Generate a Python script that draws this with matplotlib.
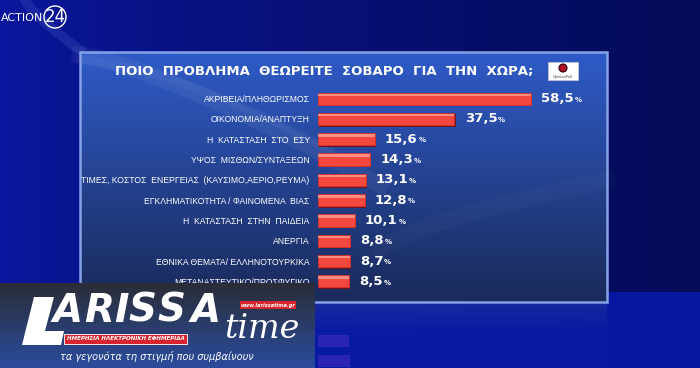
import numpy as np
import matplotlib.pyplot as plt
from matplotlib.patches import Rectangle, Circle, Polygon
from matplotlib.colors import to_rgb

# data
categories = [
    "ΑΚΡΙΒΕΙΑ/ΠΛΗΘΩΡΙΣΜΟΣ",
    "ΟΙΚΟΝΟΜΙΑ/ΑΝΑΠΤΥΞΗ",
    "Η  ΚΑΤΑΣΤΑΣΗ  ΣΤΟ  ΕΣΥ",
    "ΥΨΟΣ  ΜΙΣΘΩΝ/ΣΥΝΤΑΞΕΩΝ",
    "ΤΙΜΕΣ, ΚΟΣΤΟΣ  ΕΝΕΡΓΕΙΑΣ  (ΚΑΥΣΙΜΟ,ΑΕΡΙΟ,ΡΕΥΜΑ)",
    "ΕΓΚΛΗΜΑΤΙΚΟΤΗΤΑ / ΦΑΙΝΟΜΕΝΑ  ΒΙΑΣ",
    "Η  ΚΑΤΑΣΤΑΣΗ  ΣΤΗΝ  ΠΑΙΔΕΙΑ",
    "ΑΝΕΡΓΙΑ",
    "ΕΘΝΙΚΑ ΘΕΜΑΤΑ/ ΕΛΛΗΝΟΤΟΥΡΚΙΚΑ",
    "ΜΕΤΑΝΑΣΤΕΥΤΙΚΟ/ΠΡΟΣΦΥΓΙΚΟ",
]
values = [58.5, 37.5, 15.6, 14.3, 13.1, 12.8, 10.1, 8.8, 8.7, 8.5]
title = "ΠΟΙΟ  ΠΡΟΒΛΗΜΑ  ΘΕΩΡΕΙΤΕ  ΣΟΒΑΡΟ  ΓΙΑ  ΤΗΝ  ΧΩΡΑ;"

W, H = 700, 368


def grad(c1, c2, n=256):
    a = np.array(to_rgb(c1))
    b = np.array(to_rgb(c2))
    t = np.linspace(0, 1, n)[:, None]
    return (a + (b - a) * t)[:, None, :]


fig = plt.figure(figsize=(7, 3.68), dpi=100)

# background, pixel coords
bg = fig.add_axes([0, 0, 1, 1])
bg.set_xlim(0, W)
bg.set_ylim(H, 0)
bg.axis('off')

X, Y = np.meshgrid(np.linspace(0, 1, 300), np.linspace(0, 1, 160))
left = np.array(to_rgb('#0b17a0'))
right = np.array(to_rgb('#040b58'))
img = left + (right - left) * X[..., None] ** 0.7
bg.imshow(img, extent=[0, W, 292, 0], aspect='auto', zorder=0)
# floor
f1, f2 = np.array(to_rgb('#0c1ea8')), np.array(to_rgb('#0718a0'))
bg.imshow(f1 + (f2 - f1) * X[..., None], extent=[0, W, H, 292], aspect='auto', zorder=0.5)

# panel
bg.imshow(grad('#2f5bc8', '#1a2a5a'), extent=[80, 607, 302, 52], aspect='auto', zorder=1)
bg.add_patch(Rectangle((80, 52), 527, 250, fill=False, ec='#86a2e6', lw=1.8, zorder=2))
# soft curved streaks
t = np.linspace(0, 1, 200)
bg.plot(80 + 300 * t, 55 + 130 * t ** 1.3, color='white', alpha=0.05, lw=12, zorder=1.5)
bg.plot(80 + 250 * t, 60 + 90 * t ** 1.5, color='white', alpha=0.04, lw=6, zorder=1.5)
bg.plot(380 + 227 * t, 250 - 70 * t ** 0.7, color='white', alpha=0.025, lw=12, zorder=1.5)
bg.plot(25 + 55 * t, 0 + 50 * t ** 0.8, color='#6a80e0', alpha=0.18, lw=7, zorder=0.8)

# reflection strip under panel
bg.imshow(grad('#27379a', '#0c1ea8'), extent=[80, 607, 330, 304], aspect='auto', zorder=1, alpha=0.5)

bg.text(324, 71, title, color='white', fontsize=9.5, fontweight='bold',
        ha='center', va='center', zorder=3)

# opinion poll badge
bg.add_patch(Rectangle((548, 62), 30, 18, fc='white', ec='#c8c8c8', lw=0.5, zorder=3))
bg.add_patch(Circle((563, 68), 4, fc='#b01020', ec='#300010', lw=0.8, zorder=4))
bg.text(563, 77, "OpinionPoll", fontsize=2.5, ha='center', va='center', color='#334', zorder=4)

# action24 logo
bg.text(1, 18, "ACTION", color='white', fontsize=8, ha='left', va='center', zorder=3)
bg.text(55, 17, "24", color='white', fontsize=12, ha='center', va='center', zorder=3)
bg.add_patch(Circle((55, 17), 11, fill=False, ec='white', lw=1, zorder=3))

# bar chart
ax = fig.add_axes([318 / W, 1 - 291.5 / H, 282 / W, 203 / H])
ax.patch.set_alpha(0)
ax.set_xlim(0, 77.5)
ax.set_ylim(len(values) - 0.5, -0.5)
for s in ax.spines.values():
    s.set_visible(False)
ax.set_xticks([])
ypos = np.arange(len(values))
ax.barh(ypos + 0.07, values, height=0.62, left=0.3, color='#6e1520', zorder=1)
ax.barh(ypos, values, height=0.6, color='#f4473d', ec='#d8302a', lw=0.6, zorder=2)
ax.barh(ypos - 0.19, values, height=0.12, color='#fb9c90', alpha=0.85, zorder=3)
ax.set_yticks(ypos)
ax.set_yticklabels(categories, color='white', fontsize=6.2, family='Liberation Sans')
ax.tick_params(axis='y', length=0, pad=6)

for y, v in zip(ypos, values):
    txt = ax.text(v + 2.8, y, f"{v:.1f}".replace('.', ','), color='white', fontsize=9.5,
                  fontweight='bold', ha='left', va='center')
    ax.annotate('%', xy=(1, 0.18), xycoords=txt, color='white', fontsize=5,
                fontweight='bold', ha='left', va='bottom', xytext=(0.5, 0),
                textcoords='offset points')

# faint mirror of the bars on the floor
rf = fig.add_axes([318 / W, 1 - (622 - 88.5) / H, 282 / W, 203 / H])
rf.patch.set_alpha(0)
rf.axis('off')
rf.set_xlim(0, 77.5)
rf.set_ylim(-0.5, len(values) - 0.5)
rf.barh(ypos, values, height=0.6, color='#6a3ad0', alpha=0.35)

# larissatime overlay
ov = fig.add_axes([0, 0, 315 / W, 85 / H])
ov.set_xlim(0, 315)
ov.set_ylim(368, 283)
ov.axis('off')
ov.imshow(grad('#2b2d36', '#2a4c9e'), extent=[0, 315, 368, 283], aspect='auto', zorder=0)
ov.add_patch(Polygon([[34, 297], [54, 297], [45, 331], [64, 331], [61, 345], [22, 345]],
                     fc='white', ec='none', zorder=2))
for ch, cx in zip("ARISSA", [68, 99, 121, 142, 171, 206]):
    ov.text(cx, 311, ch, color='white', fontsize=28, fontweight='bold', style='italic',
            ha='center', va='center', zorder=2)
ov.text(262, 329, "time", color='white', fontsize=24, family='DejaVu Serif', style='italic',
        ha='center', va='center', zorder=2)
ov.add_patch(Rectangle((240, 301), 56, 8, fc='#d8242c', ec='none', zorder=3))
ov.text(268, 305, "www.larissatime.gr", color='white', fontsize=3.6, fontweight='bold',
        style='italic', ha='center', va='center', zorder=4)
ov.add_patch(Rectangle((64, 334), 123, 10, fc='#d8242c', ec='white', lw=0.6, zorder=3))
ov.text(125.5, 339, "ΗΜΕΡΗΣΙΑ ΗΛΕΚΤΡΟΝΙΚΗ ΕΦΗΜΕΡΙΔΑ", color='white', fontsize=4.0,
        fontweight='bold', style='italic', ha='center', va='center', zorder=4)
ov.text(157, 356, "τα γεγονότα τη στιγμή που συμβαίνουν", color='white', fontsize=7,
        style='italic', ha='center', va='center', zorder=2)

fig.savefig('out.png', dpi=100)
